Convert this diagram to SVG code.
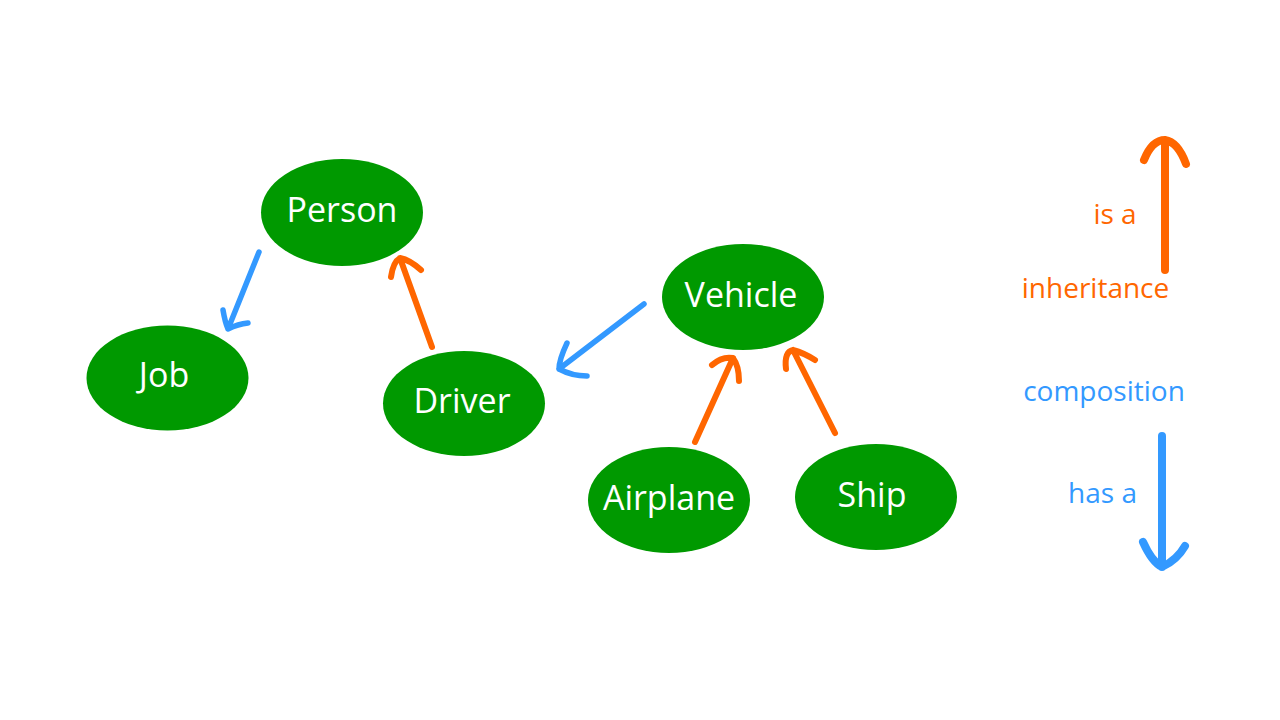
<svg xmlns="http://www.w3.org/2000/svg" width="1280" height="720" viewBox="0 0 1280 720">
<style>
.node{fill:#009900}
.lbl{font-family:"Open Sans","Liberation Sans",sans-serif;font-size:34px;fill:#ffffff;text-anchor:middle}
.inh{stroke:#FF6600;fill:none;stroke-width:6;stroke-linecap:round;stroke-linejoin:round}
.comp{stroke:#3399FF;fill:none;stroke-width:5.5;stroke-linecap:round;stroke-linejoin:round}
.leg{font-family:"Open Sans","Liberation Sans",sans-serif;font-size:28px;text-anchor:middle}
</style>
<rect width="1280" height="720" fill="#ffffff"/>
<g id="person"><ellipse class="node" cx="342" cy="212.5" rx="81" ry="53.5"/><text class="lbl" x="342" y="222">Person</text></g>
<g id="job"><ellipse class="node" cx="167.5" cy="378" rx="81" ry="52.5"/><text class="lbl" x="164" y="387">Job</text></g>
<g id="driver"><ellipse class="node" cx="464" cy="403.5" rx="81" ry="52.5"/><text class="lbl" x="462" y="413">Driver</text></g>
<g id="vehicle"><ellipse class="node" cx="743" cy="297" rx="81" ry="53"/><text class="lbl" x="741" y="307">Vehicle</text></g>
<g id="airplane"><ellipse class="node" cx="669" cy="500" rx="81" ry="53"/><text class="lbl" x="669" y="510">Airplane</text></g>
<g id="ship"><ellipse class="node" cx="876" cy="497" rx="81" ry="53"/><text class="lbl" x="872" y="507">Ship</text></g>
<g id="connectors">
<path class="comp" d="M259 252 L228 329 M223 310 Q225 322 228 329 Q238 324 248 323"/>
<path class="inh" d="M432 347 L400 258 M391 277 Q393 262 400 258 Q410 260 421 270"/>
<path class="comp" d="M644 304 L559 369 M567 343 Q559 360 559 369 Q572 376 587 376"/>
<path class="inh" d="M695 442 L733 358 M712 365 Q722 356 733 358 Q739 366 739 381"/>
<path class="inh" d="M835 433 L793 350 M786 369 Q784 352 793 350 Q804 353 815 360"/>
</g>
<g id="legend">
<path class="inh" style="stroke-width:8" d="M1165 270 L1165 140 M1144 160 Q1152 140 1165 140 Q1178 142 1186 164"/>
<path class="comp" style="stroke-width:8" d="M1162 436 L1162 567 M1143 542 Q1152 562 1162 567 Q1177 560 1185 546"/>
<text class="leg" x="1115" y="224" fill="#FF6600">is a</text>
<text class="leg" x="1095.5" y="298" fill="#FF6600">inheritance</text>
<text class="leg" x="1104" y="401" fill="#3399FF">composition</text>
<text class="leg" x="1102.5" y="503" fill="#3399FF">has a</text>
</g>
</svg>
